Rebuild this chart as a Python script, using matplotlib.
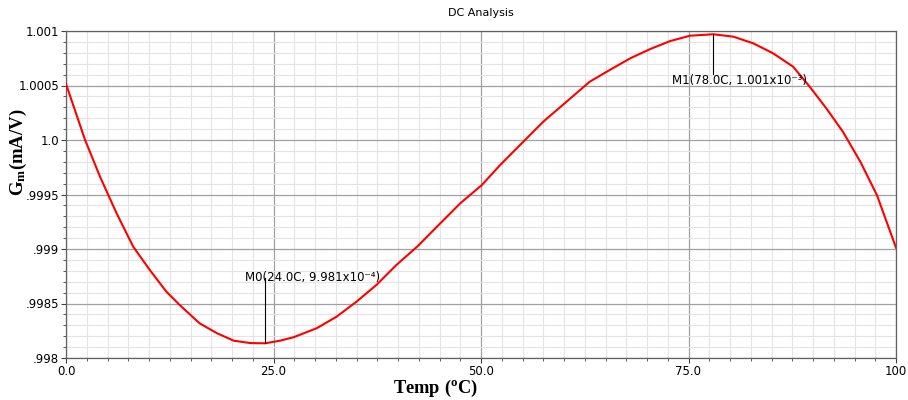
import matplotlib
matplotlib.use("Agg")
import matplotlib.pyplot as plt
from matplotlib.ticker import MultipleLocator, FixedLocator

temp = [0.0, 2.3, 4.1, 5.1, 6.1, 8.1, 10.1, 12.1, 13.7, 16.1, 18.2, 20.2, 22.2, 24.0,
        25.8, 27.4, 30.2, 32.6, 35.0, 37.4, 39.8, 42.3, 45.1, 47.5, 50.1, 52.3, 54.7,
        57.5, 60.3, 63.1, 65.5, 68.0, 70.4, 72.8, 75.2, 78.0, 80.4, 82.8, 85.2, 87.6,
        89.6, 91.6, 93.6, 95.7, 97.7, 100.0]
gm = [1.000514, 1.0000, 0.999663, 0.999495, 0.999327, 0.999021, 0.998807, 0.998608,
      0.998486, 0.998318, 0.998227, 0.998159, 0.998137, 0.998135,
      0.998159, 0.99819, 0.998273, 0.998379, 0.998517, 0.99867, 0.998853, 0.999021,
      0.999236, 0.999419, 0.999587, 0.99977, 0.999954,
      1.000168, 1.000351, 1.000535, 1.000642, 1.00075, 1.000835, 1.000908, 1.000957,
      1.00097, 1.000948, 1.000887, 1.000795, 1.000673,
      1.000489, 1.000291, 1.000076, 0.999801, 0.999495, 0.999012]

yticks = [0.998, 0.9985, 0.999, 0.9995, 1.0, 1.0005, 1.001]
ytick_labels = [".998", ".9985", ".999", ".9995", "1.0", "1.0005", "1.001"]
xticks = [0, 25, 50, 75, 100]
xtick_labels = ["0.0", "25.0", "50.0", "75.0", "100"]

marker_names = ["M0", "M1"]
marker_x = [24.0, 78.0]
marker_y = [0.998135, 1.00097]
marker_vals = ["9.981x10\u207b\u2074)", "1.001x10\u207b\u00b3)"]

plt.rcParams['mathtext.fontset'] = 'custom'
plt.rcParams['mathtext.rm'] = 'Liberation Serif:bold'
plt.rcParams['mathtext.it'] = 'Liberation Serif:bold'
plt.rcParams['mathtext.bf'] = 'Liberation Serif:bold'

fig = plt.figure(figsize=(9.08, 4.0), dpi=100)
ax = fig.add_axes([66/908, 1-358/400, (896-66)/908, (358-31)/400])

ax.plot(temp, gm, color='#ff0000', lw=1.5, zorder=3)
ax.set_xlim(0, 100)
ax.set_ylim(0.998, 1.001)

ax.xaxis.set_major_locator(FixedLocator(xticks))
ax.set_xticklabels(xtick_labels)
ax.yaxis.set_major_locator(FixedLocator(yticks))
ax.set_yticklabels(ytick_labels)
ax.xaxis.set_minor_locator(MultipleLocator(2.5))
ax.yaxis.set_minor_locator(MultipleLocator(0.0001))

ax.grid(which='major', color='#a0a0a0', lw=0.9)
ax.grid(which='minor', color='#e4e4e4', lw=0.8)
ax.set_axisbelow(True)

ax.tick_params(which='major', direction='out', length=3.5, width=0.8, color='#404040',
               labelsize=8.5, pad=1.5)
ax.tick_params(which='minor', direction='out', length=2.5, width=0.6, color='#404040')
for s in ax.spines.values():
    s.set_color('#606060')
    s.set_linewidth(0.9)

label_y = [0.99868, 1.00049]
line_top = [0.99873, 1.00061]
label_dx = [-2.4, -5.0]
for name, x, y, val, ly, lt, dx in zip(marker_names, marker_x, marker_y, marker_vals,
                                       label_y, line_top, label_dx):
    ax.plot([x, x], [y, lt], color='black', lw=0.8, zorder=4)
    ax.text(x + dx, ly, f"{name}({x:.1f}C, {val}", fontsize=8.5,
            family='DejaVu Sans', ha='left', va='bottom', zorder=5)

fig.text(481/908, 1-13/400, "DC Analysis", ha='center', va='center', fontsize=8,
         family='DejaVu Sans')
fig.text(18/908, 1-152/400, r'$\mathrm{G_m(mA/V)}$', fontsize=13.5, rotation=90,
         ha='center', va='center')
fig.text(435/908, 1-393/400, r'$\mathrm{Temp\ (^oC)}$', fontsize=13.2,
         ha='center', va='baseline')

fig.savefig("out.png", dpi=100)
